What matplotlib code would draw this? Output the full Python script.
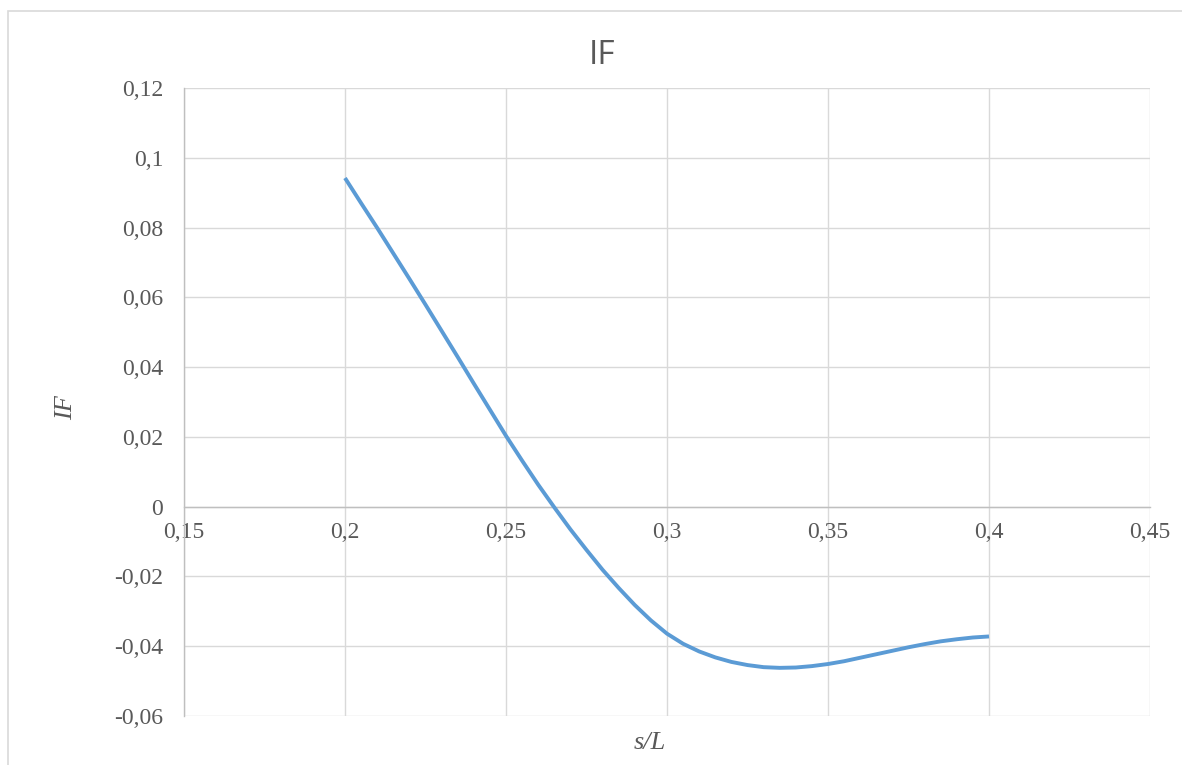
import matplotlib
matplotlib.use("Agg")
import matplotlib.pyplot as plt
from matplotlib.patches import Rectangle
from matplotlib.ticker import FuncFormatter, MultipleLocator

# values (every 0.005 in s/L)
s_over_L = [0.200, 0.205, 0.210, 0.215, 0.220, 0.225, 0.230, 0.235, 0.240, 0.245,
            0.250, 0.255, 0.260, 0.265, 0.270, 0.275, 0.280, 0.285, 0.290, 0.295,
            0.300, 0.305, 0.310, 0.315, 0.320, 0.325, 0.330, 0.335, 0.340, 0.345,
            0.350, 0.355, 0.360, 0.365, 0.370, 0.375, 0.380, 0.385, 0.390, 0.395,
            0.400]
IF_values = [0.0942, 0.0870, 0.0799, 0.0726, 0.0653, 0.0579, 0.0504, 0.0429, 0.0353, 0.0278,
             0.0203, 0.0132, 0.0063, -0.0002, -0.0065, -0.0124, -0.0181, -0.0233, -0.0282, -0.0326,
             -0.0364, -0.0393, -0.0415, -0.0432, -0.0445, -0.0454, -0.0460, -0.0462, -0.0461, -0.0457,
             -0.0451, -0.0443, -0.0433, -0.0423, -0.0413, -0.0403, -0.0394, -0.0386, -0.0380, -0.0375,
             -0.0372]

chart_title = "IF"
x_label = "s/L"
y_label = "IF"

W, H = 1182, 765
fig = plt.figure(figsize=(W / 100, H / 100), dpi=100)
ax = fig.add_axes([184 / W, 1 - 716 / H, (1150 - 184) / W, (716 - 88) / H])

# outer chart border (only top and left are visible in the crop)
fig.patches.append(Rectangle((8 / W, -0.2), 1.2, 1.2 - 11 / H, transform=fig.transFigure,
                             fill=False, edgecolor="#d9d9d9", linewidth=1.2))

ax.plot(s_over_L, IF_values, color="#5b9bd5", linewidth=2.8, solid_capstyle="butt",
        solid_joinstyle="round", zorder=3)

ax.set_xlim(0.15, 0.45)
ax.set_ylim(-0.06, 0.12)
ax.xaxis.set_major_locator(MultipleLocator(0.05))
ax.yaxis.set_major_locator(MultipleLocator(0.02))

def comma_fmt(v, pos):
    s = "{:.2f}".format(v).rstrip("0").rstrip(".")
    if s in ("-0", "0.0", "-0.0"):
        s = "0"
    return s.replace(".", ",")

ax.xaxis.set_major_formatter(FuncFormatter(comma_fmt))
ax.yaxis.set_major_formatter(FuncFormatter(comma_fmt))

ax.grid(True, color="#d9d9d9", linewidth=1.0)
ax.set_axisbelow(True)

for side in ("top", "right"):
    ax.spines[side].set_visible(False)
ax.spines["bottom"].set_position(("data", 0))
ax.spines["bottom"].set_color("#bfbfbf")
ax.spines["bottom"].set_linewidth(1.0)
ax.spines["left"].set_color("#bfbfbf")
ax.spines["left"].set_linewidth(1.0)

ax.tick_params(axis="both", length=0, colors="#595959", labelsize=17,
               labelfontfamily="Liberation Serif")
ax.tick_params(axis="x", pad=11)
ax.tick_params(axis="y", pad=15)

fig.text(602 / W, 1 - 56 / H, chart_title, ha="center", va="center",
         fontsize=24, color="#595959", family="Open Sans")
fig.text(650 / W, 1 - 743 / H, x_label, ha="center", va="center",
         fontsize=19, color="#595959", family="Liberation Serif", style="italic")
fig.text(66 / W, 1 - 408 / H, y_label, ha="center", va="center", rotation=90,
         fontsize=19, color="#595959", family="Liberation Serif", style="italic")

fig.savefig("out.png", dpi=100)
